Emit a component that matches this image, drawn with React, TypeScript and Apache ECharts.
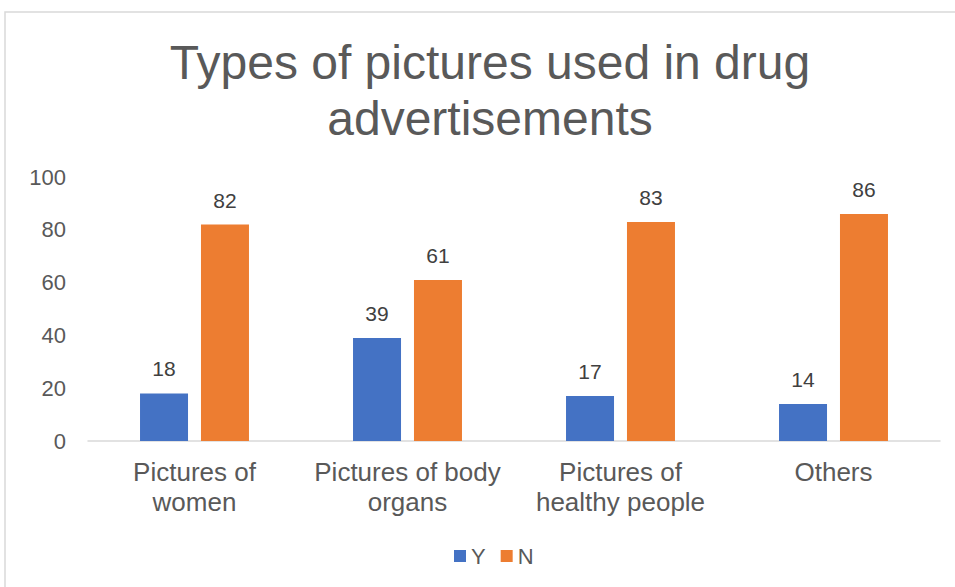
import React, { useEffect, useRef } from "react";
import * as echarts from "echarts";

const categories = [
  "Pictures of\nwomen",
  "Pictures of body\norgans",
  "Pictures of\nhealthy people",
  "Others",
];
const seriesY = [18, 39, 17, 14];
const seriesN = [82, 61, 83, 86];
const yTicks = { min: 0, max: 100, interval: 20 };
const titleText = "Types of pictures used in drug\nadvertisements";

const FONT = "'Liberation Sans', Arial, sans-serif";

export default function App() {
  const ref = useRef<HTMLDivElement>(null);
  useEffect(() => {
    if (!ref.current) return;
    const chart = echarts.init(ref.current, null, { renderer: "svg" });
    chart.setOption({
      animation: false,
      backgroundColor: "#ffffff",
      textStyle: { fontFamily: FONT },
      graphic: [
        {
          type: "rect",
          shape: { x: 5, y: 12, width: 1200, height: 1200 },
          style: { fill: "none", stroke: "#d9d9d9", lineWidth: 1.5 },
          silent: true,
        },
        {
          type: "text",
          x: 490,
          y: 34,
          style: {
            text: titleText,
            fill: "#595959",
            fontSize: 48,
            fontFamily: FONT,
            lineHeight: 56,
            align: "center",
            verticalAlign: "top",
          },
        },
      ],
      legend: {
        data: ["Y", "N"],
        left: 449,
        top: 540,
        itemWidth: 12,
        itemHeight: 12,
        itemGap: 15,
        icon: "rect",
        textStyle: { color: "#595959", fontSize: 22, fontFamily: FONT, padding: [0, 0, 0, 0] },
      },
      grid: { left: 88, right: 15, top: 177, bottom: 146, containLabel: false },
      xAxis: {
        type: "category",
        data: categories,
        axisLine: { lineStyle: { color: "#d9d9d9", width: 1.5 } },
        axisTick: { show: false },
        axisLabel: {
          color: "#595959",
          fontSize: 26,
          lineHeight: 30,
          margin: 16,
          fontFamily: FONT,
          interval: 0,
        },
      },
      yAxis: {
        type: "value",
        min: yTicks.min,
        max: yTicks.max,
        interval: yTicks.interval,
        splitLine: { show: false },
        axisLine: { show: false },
        axisTick: { show: false },
        axisLabel: { color: "#595959", fontSize: 22, margin: 22, fontFamily: FONT },
      },
      series: [
        {
          name: "Y",
          type: "bar",
          data: seriesY,
          barWidth: 48,
          barGap: "27%",
          itemStyle: { color: "#4472c4" },
          label: {
            show: true,
            position: "top",
            distance: 14,
            color: "#404040",
            fontSize: 21,
            fontFamily: FONT,
          },
        },
        {
          name: "N",
          type: "bar",
          data: seriesN,
          barWidth: 48,
          barGap: "27%",
          itemStyle: { color: "#ed7d31" },
          label: {
            show: true,
            position: "top",
            distance: 14,
            color: "#404040",
            fontSize: 21,
            fontFamily: FONT,
          },
        },
      ],
    });
    return () => chart.dispose();
  }, []);
  return (
    <div
      ref={ref}
      style={{ position: "fixed", left: 0, top: 0, width: 955, height: 587 }}
    />
  );
}
